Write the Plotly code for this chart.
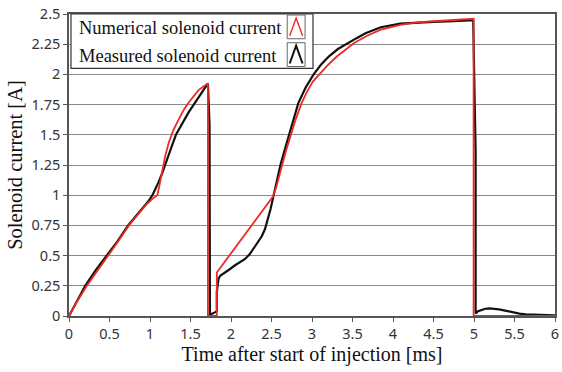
import plotly.graph_objects as go

# Numerical (simulated) solenoid current
t_num = [0, 0.1, 0.22, 0.35, 0.48, 0.61, 0.74, 0.85, 0.95, 1.03, 1.09, 1.11, 1.13, 1.154,
         1.19, 1.234, 1.29, 1.356, 1.42, 1.48, 1.54, 1.6, 1.66, 1.715,
         1.715, 1.825, 1.825, 2.0, 2.2, 2.4, 2.52, 2.56, 2.6, 2.63, 2.68, 2.74, 2.8, 2.87,
         2.94, 3.01, 3.09, 3.2, 3.31, 3.42, 3.52, 3.68, 3.85, 4.09, 4.3, 4.5, 4.75, 4.995,
         4.995, 6.0]
i_num = [0, 0.12, 0.25, 0.37, 0.5, 0.62, 0.75, 0.84, 0.92, 0.97, 1.0, 1.06, 1.13, 1.22,
         1.33, 1.44, 1.54, 1.63, 1.71, 1.77, 1.82, 1.87, 1.9, 1.925,
         0, 0, 0.36, 0.52, 0.70, 0.88, 0.99, 1.07, 1.17, 1.25, 1.37, 1.5, 1.63, 1.76,
         1.86, 1.94, 2.0, 2.08, 2.15, 2.21, 2.26, 2.32, 2.37, 2.41, 2.43, 2.44, 2.45, 2.46,
         0, 0]

# Measured solenoid current
t_meas = [0, 0.05, 0.12, 0.2, 0.33, 0.47, 0.6, 0.73, 0.83, 0.91, 0.98, 1.03, 1.07, 1.1,
          1.15, 1.19, 1.25, 1.32, 1.4, 1.48, 1.54, 1.6, 1.66, 1.715,
          1.735, 1.74, 1.8, 1.825, 1.825, 1.835, 1.846, 1.87, 1.906, 1.98, 2.05, 2.11, 2.17,
          2.23, 2.29, 2.34, 2.38, 2.42, 2.46, 2.49, 2.52, 2.565, 2.61, 2.665, 2.72, 2.775,
          2.83, 2.92, 3.02, 3.11, 3.21, 3.32, 3.44, 3.55, 3.66, 3.85, 4.09, 4.3, 4.5, 4.75,
          4.99, 5.02, 5.02, 5.05, 5.09, 5.14, 5.19, 5.25, 5.31, 5.4, 5.48, 5.56, 5.64, 5.74,
          5.84, 6.0]
i_meas = [0, 0.065, 0.155, 0.25, 0.38, 0.5, 0.62, 0.75, 0.83, 0.9, 0.95, 1.0, 1.05, 1.1,
          1.18, 1.25, 1.37, 1.5, 1.6, 1.69, 1.75, 1.81, 1.87, 1.925,
          1.59, 0.01, 0.03, 0.04, 0.2, 0.27, 0.31, 0.335, 0.35, 0.385, 0.42, 0.445, 0.47,
          0.51, 0.57, 0.62, 0.66, 0.72, 0.81, 0.89, 0.98, 1.12, 1.25, 1.38, 1.5, 1.63,
          1.76, 1.89, 2.0, 2.08, 2.15, 2.21, 2.26, 2.3, 2.34, 2.39, 2.42, 2.43, 2.435, 2.44,
          2.45, 1.36, 0.02, 0.04, 0.05, 0.06, 0.063, 0.06, 0.055, 0.043, 0.03, 0.02, 0.014,
          0.01, 0.008, 0.005]

legend_labels = ["Numerical solenoid current", "Measured solenoid current"]
x_title = "Time after start of injection [ms]"
y_title = "Solenoid current [A]"

W, H = 562, 372
ML, MR, MT, MB = 69, 3, 11, 56
PW, PH = W - ML - MR, H - MT - MB


def px(x):
    return (x - ML) / PW


def py(y):
    return (H - MB - y) / PH


fig = go.Figure()
fig.add_trace(go.Scatter(x=t_meas, y=i_meas, mode="lines", name=legend_labels[1],
                         line=dict(color="#111111", width=2.2), cliponaxis=False,
                         showlegend=False))
fig.add_trace(go.Scatter(x=t_num, y=i_num, mode="lines", name=legend_labels[0],
                         line=dict(color="#ee2a24", width=1.8), cliponaxis=False,
                         showlegend=False))

serif = "Liberation Serif, Times New Roman, serif"
sans = "Noto Sans, Open Sans, sans-serif"

shapes = []
# legend frame
shapes.append(dict(type="rect", xref="paper", yref="paper",
                   x0=px(71), x1=px(315), y0=py(66), y1=py(11),
                   line=dict(color="#333333", width=1.2), fillcolor="white", layer="above"))
annotations = []
rows = [(24, "#ee2a24", 1.4), (52, "#111111", 2.0)]
for (cy, col, lw), label in zip(rows, legend_labels):
    shapes.append(dict(type="rect", xref="paper", yref="paper",
                       x0=px(289), x1=px(307), y0=py(cy + 12), y1=py(cy - 12),
                       line=dict(color="#666666", width=1), fillcolor="white", layer="above"))
    path = "M {:.4f},{:.4f} L {:.4f},{:.4f} L {:.4f},{:.4f}".format(
        px(291.5), py(cy + 9), px(298), py(cy - 9), px(304.5), py(cy + 9))
    shapes.append(dict(type="path", xref="paper", yref="paper", path=path,
                       line=dict(color=col, width=lw), layer="above"))
    annotations.append(dict(xref="paper", yref="paper", x=px(77), y=py(cy + 1),
                            xanchor="left", yanchor="middle", showarrow=False,
                            text=label, font=dict(family=serif, size=18.5, color="#111111")))

fig.update_layout(
    width=W, height=H,
    margin=dict(l=ML, r=MR, t=MT, b=MB, pad=0),
    paper_bgcolor="white", plot_bgcolor="white",
    showlegend=False,
    shapes=shapes, annotations=annotations,
    xaxis=dict(range=[0, 6], dtick=0.5, tick0=0, showgrid=False, zeroline=False,
               showline=True, linecolor="#555555", linewidth=1.5, mirror=True,
               ticks="outside", ticklen=4, tickcolor="#555555",
               tickfont=dict(family=sans, size=14.5, color="#333333"),
               title=dict(text=x_title, font=dict(family=serif, size=20, color="#111111"),
                          standoff=5),
               layer="below traces"),
    yaxis=dict(range=[0, 2.5], dtick=0.25, tick0=0, showgrid=True, gridcolor="#8a8a8a",
               gridwidth=1.3, zeroline=False,
               showline=True, linecolor="#555555", linewidth=1.5, mirror=True,
               ticks="outside", ticklen=4, tickcolor="#555555",
               tickfont=dict(family=sans, size=14.5, color="#333333"),
               title=dict(text=y_title, font=dict(family=serif, size=20.5, color="#111111"),
                          standoff=3),
               layer="below traces"),
)

fig.write_html("out.html")
